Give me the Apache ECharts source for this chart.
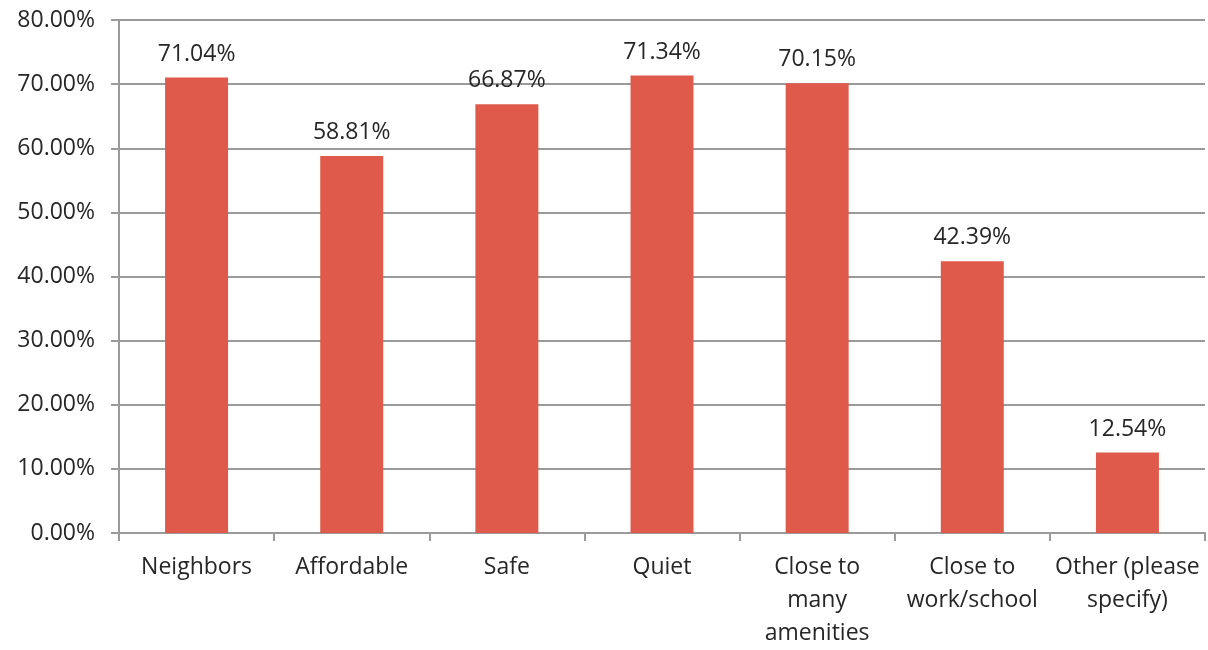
<!DOCTYPE html>
<html>
<head>
<meta charset="utf-8">
<script src="https://cdn.jsdelivr.net/npm/echarts@6/dist/echarts.min.js"></script>
<style>
  html, body { margin: 0; padding: 0; background: #fff; overflow: hidden; }
  #chart { width: 1208px; height: 650px; }
</style>
</head>
<body>
<div id="chart"></div>
<script>
// Reasons for choosing the neighborhood (share of respondents)
const categories = ['Neighbors', 'Affordable', 'Safe', 'Quiet', 'Close to\nmany\namenities', 'Close to\nwork/school', 'Other (please\nspecify)'];
const values = [71.04, 58.81, 66.87, 71.34, 70.15, 42.39, 12.54];
const yTicks = [0, 10, 20, 30, 40, 50, 60, 70, 80];

const FONT = '"Open Sans", sans-serif';
const chart = echarts.init(document.getElementById('chart'));

chart.setOption({
  animation: false,
  grid: { left: 119, right: 3, top: 20, bottom: 110, containLabel: false },
  xAxis: {
    type: 'category',
    data: categories,
    axisLine: { lineStyle: { color: '#9a9a9a', width: 2 } },
    axisTick: { show: true, length: 8, lineStyle: { color: '#9a9a9a', width: 2 } },
    axisLabel: {
      color: '#262626', fontSize: 23, fontFamily: FONT,
      lineHeight: 33, margin: 18, interval: 0
    }
  },
  yAxis: {
    type: 'value',
    min: yTicks[0],
    max: yTicks[yTicks.length - 1],
    interval: 10,
    axisLine: { show: true, lineStyle: { color: '#9a9a9a', width: 2 } },
    axisTick: { show: true, length: 8, lineStyle: { color: '#9a9a9a', width: 2 } },
    splitLine: { lineStyle: { color: '#9a9a9a', width: 2 } },
    axisLabel: {
      color: '#262626', fontSize: 23, fontFamily: FONT, margin: 24,
      formatter: v => v.toFixed(2) + '%'
    }
  },
  series: [{
    type: 'bar',
    data: values,
    barWidth: '40.6%',
    itemStyle: { color: '#E05A4B' },
    label: {
      show: true, position: 'top', distance: 12,
      color: '#262626', fontSize: 23, fontFamily: FONT,
      formatter: p => p.value.toFixed(2) + '%'
    }
  }]
});
</script>
</body>
</html>
